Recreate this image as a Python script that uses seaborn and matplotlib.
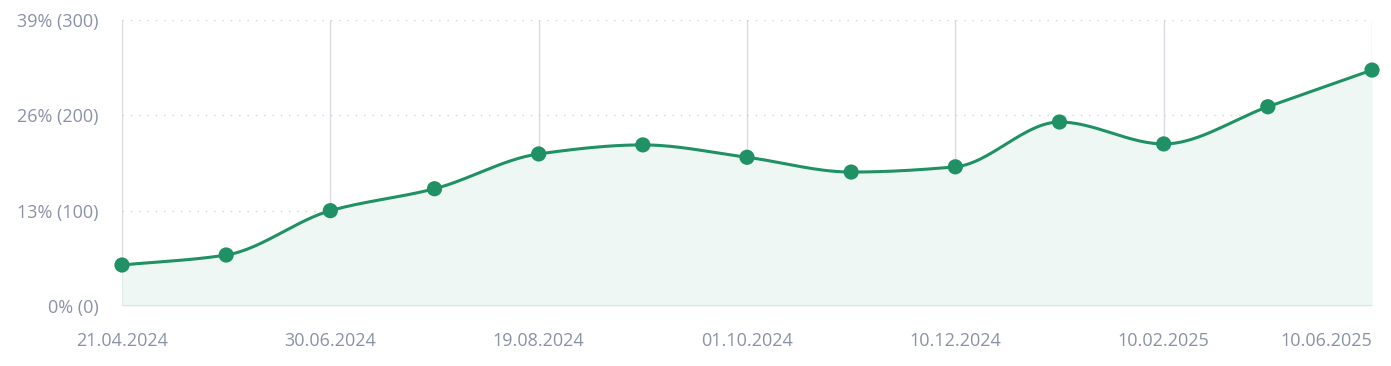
import numpy as np
import pandas as pd
import seaborn as sns
import matplotlib
matplotlib.use("Agg")
import matplotlib.pyplot as plt

values = [43, 53.5, 100, 123, 159.5, 169, 156, 140.5, 146, 193, 170, 209, 247.5]
tick_labels = ["21.04.2024", "30.06.2024", "19.08.2024", "01.10.2024",
               "10.12.2024", "10.02.2025", "10.06.2025"]
y_ticks = [0, 100, 200, 300]
y_tick_labels = ["0% (0)", "13% (100)", "26% (200)", "39% (300)"]

line_color = "#1f9164"
fill_color = "#eef7f3"
text_color = "#8a93a6"
grid_color = "#d9dde3"

df = pd.DataFrame({"idx": np.arange(len(values)), "value": values})


def monotone_curve(x, y, n=30):
    # Fritsch-Carlson monotone cubic, just for drawing the smooth line
    x = np.asarray(x, float)
    y = np.asarray(y, float)
    h = np.diff(x)
    d = np.diff(y) / h
    m = np.zeros_like(y)
    m[0], m[-1] = d[0], d[-1]
    for i in range(1, len(y) - 1):
        if d[i - 1] * d[i] <= 0:
            m[i] = 0
        else:
            w1 = 2 * h[i] + h[i - 1]
            w2 = h[i] + 2 * h[i - 1]
            m[i] = (w1 + w2) / (w1 / d[i - 1] + w2 / d[i])
    xs, ys = [], []
    for i in range(len(y) - 1):
        t = np.linspace(0, 1, n, endpoint=False)
        h00 = 2 * t**3 - 3 * t**2 + 1
        h10 = t**3 - 2 * t**2 + t
        h01 = -2 * t**3 + 3 * t**2
        h11 = t**3 - t**2
        xs.append(x[i] + t * h[i])
        ys.append(h00 * y[i] + h10 * h[i] * m[i] + h01 * y[i + 1] + h11 * h[i] * m[i + 1])
    xs.append([x[-1]])
    ys.append([y[-1]])
    return np.concatenate(xs), np.concatenate(ys)


cx, cy = monotone_curve(df["idx"], df["value"])
curve = pd.DataFrame({"idx": cx, "value": cy})

sns.set_theme(style="white")
plt.rcParams["font.family"] = ["Open Sans", "DejaVu Sans"]

fig = plt.figure(figsize=(13.91, 3.66), dpi=100)
ax = fig.add_axes([122 / 1391, 60 / 366, 1250 / 1391, 286 / 366])

ax.fill_between(curve["idx"], curve["value"], 0, color=fill_color, lw=0, zorder=1)
sns.lineplot(data=curve, x="idx", y="value", ax=ax, color=line_color, lw=2.2,
             zorder=3, clip_on=False)
sns.scatterplot(data=df, x="idx", y="value", ax=ax, color=line_color, s=120,
                edgecolor="none", zorder=4, clip_on=False)

ax.set_xlim(0, len(values) - 1)
ax.set_ylim(0, 300)

label_pos = np.arange(0, len(values), 2)
ax.set_xticks(label_pos)
ax.set_xticklabels(tick_labels)
ax.set_yticks(y_ticks)
ax.set_yticklabels(y_tick_labels)
ax.tick_params(axis="x", length=0, pad=19, labelsize=13, labelcolor=text_color)
ax.tick_params(axis="y", length=0, pad=17, labelsize=13, labelcolor=text_color)
xl = ax.get_xticklabels()
xl[-1].set_horizontalalignment("right")
xl[-1].set_x(label_pos[-1] + 0.02)
ax.set_xlabel("")
ax.set_ylabel("")

for p in label_pos:
    ax.axvline(p, color=grid_color, lw=1, zorder=0)
for yv in y_ticks[1:]:
    ax.axhline(yv, color="#cfd3d8", lw=1, ls=(0, (1, 5)), zorder=0)
ax.axhline(0, color=grid_color, lw=1.2, zorder=2)

for s in ax.spines.values():
    s.set_visible(False)

fig.savefig("out.png", dpi=100)
